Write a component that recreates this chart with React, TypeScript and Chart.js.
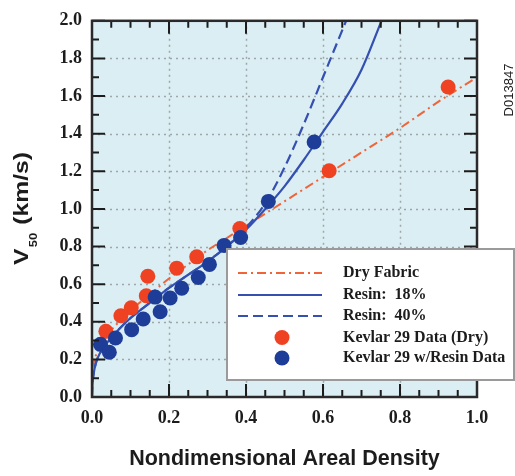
import React, { useEffect, useRef } from 'react';
import { Chart, registerables } from 'chart.js';

Chart.register(...registerables);

// ---------- data ----------
const dryDataX = [0.036, 0.075, 0.102, 0.145, 0.141, 0.220, 0.272, 0.384, 0.616, 0.925];
const dryDataY = [0.349, 0.432, 0.474, 0.642, 0.538, 0.685, 0.745, 0.896, 1.203, 1.648];

const resinDataX = [0.022, 0.045, 0.061, 0.103, 0.133, 0.177, 0.164, 0.203, 0.233, 0.276, 0.305, 0.343, 0.386, 0.458, 0.577];
const resinDataY = [0.280, 0.238, 0.314, 0.358, 0.415, 0.453, 0.531, 0.526, 0.578, 0.635, 0.705, 0.806, 0.848, 1.040, 1.356];

const fabricX = [0, 0.01, 0.02, 0.04, 0.07, 0.1, 0.15, 0.2, 0.25, 0.3, 0.35, 0.4, 0.5, 0.6, 0.7, 0.8, 0.9, 1.0];
const fabricY = [0.15, 0.22, 0.27, 0.33, 0.40, 0.46, 0.545, 0.63, 0.705, 0.78, 0.845, 0.91, 1.04, 1.17, 1.30, 1.43, 1.57, 1.70];

const resin18X = [0, 0.001, 0.004, 0.01, 0.02, 0.04, 0.07, 0.1, 0.15, 0.2, 0.25, 0.3, 0.35, 0.4, 0.45, 0.5, 0.55, 0.6, 0.65, 0.7, 0.752];
const resin18Y = [0, 0.06, 0.12, 0.18, 0.23, 0.29, 0.36, 0.42, 0.5, 0.58, 0.65, 0.72, 0.8, 0.89, 1.0, 1.12, 1.26, 1.41, 1.56, 1.74, 2.0];

const resin40X = [0, 0.001, 0.004, 0.01, 0.02, 0.04, 0.07, 0.1, 0.15, 0.2, 0.25, 0.3, 0.35, 0.4, 0.45, 0.5, 0.55, 0.6, 0.66];
const resin40Y = [0, 0.06, 0.12, 0.18, 0.23, 0.29, 0.36, 0.42, 0.5, 0.58, 0.65, 0.72, 0.8, 0.9, 1.03, 1.22, 1.45, 1.70, 2.0];

const xGridValues = [0.2, 0.4, 0.6, 0.8];
const yGridValues = [0.2, 0.4, 0.6, 0.8, 1.0, 1.2, 1.4, 1.6, 1.8];

const legendLabels = ['Dry Fabric', 'Resin:  18%', 'Resin:  40%', 'Kevlar 29 Data (Dry)', 'Kevlar 29 w/Resin Data'];
const xTitle = 'Nondimensional Areal Density';
const yTitleMain = 'V';
const yTitleSub = '50';
const yTitleRest = ' (km/s)';
const figId = 'D013847';

// ---------- styles ----------
const RED_PT = '#ee4223';
const BLUE_PT = '#1e3d98';
const ORANGE_LINE = '#f0643a';
const BLUE_LINE = '#3450b0';
const BG = '#dbeef3';
const INK = '#1c1c1c';
const SERIF = '"Liberation Serif", "Times New Roman", serif';
const SANS = '"Liberation Sans", Arial, sans-serif';

const pts = (xs: number[], ys: number[]) => xs.map((x, i) => ({ x, y: ys[i] }));

const bgPlugin = {
  id: 'bgPlugin',
  beforeDraw(chart: any) {
    const { ctx, chartArea: a } = chart;
    ctx.save();
    ctx.fillStyle = '#ffffff';
    ctx.fillRect(0, 0, chart.width, chart.height);
    ctx.fillStyle = BG;
    ctx.fillRect(a.left, a.top, a.right - a.left, a.bottom - a.top);
    ctx.restore();
  },
  beforeDatasetsDraw(chart: any) {
    const { ctx, chartArea: a, scales } = chart;
    ctx.save();
    ctx.strokeStyle = '#9fa7aa';
    ctx.lineWidth = 1.5;
    ctx.setLineDash([2, 4]);
    ctx.beginPath();
    xGridValues.forEach((v) => {
      const px = Math.round(scales.x.getPixelForValue(v)) + 0.5;
      ctx.moveTo(px, a.top);
      ctx.lineTo(px, a.bottom);
    });
    yGridValues.forEach((v) => {
      const py = Math.round(scales.y.getPixelForValue(v)) + 0.5;
      ctx.moveTo(a.left, py);
      ctx.lineTo(a.right, py);
    });
    ctx.stroke();
    ctx.restore();
  },
};

const framePlugin = {
  id: 'framePlugin',
  afterDatasetsDraw(chart: any) {
    const { ctx, chartArea: a, scales } = chart;
    const xs = scales.x;
    const ys = scales.y;
    ctx.save();
    ctx.strokeStyle = INK;
    ctx.lineWidth = 2;
    ctx.beginPath();
    for (let i = 0; i <= 20; i++) {
      const px = xs.getPixelForValue(i * 0.05);
      const len = i % 4 === 0 ? 13 : 7;
      ctx.moveTo(px, a.bottom);
      ctx.lineTo(px, a.bottom - len);
      ctx.moveTo(px, a.top);
      ctx.lineTo(px, a.top + len);
    }
    for (let j = 0; j <= 20; j++) {
      const py = ys.getPixelForValue(j * 0.1);
      const len = j % 2 === 0 ? 13 : 7;
      ctx.moveTo(a.left, py);
      ctx.lineTo(a.left + len, py);
      ctx.moveTo(a.right, py);
      ctx.lineTo(a.right - len, py);
    }
    ctx.stroke();
    ctx.lineWidth = 2.5;
    ctx.strokeStyle = '#2a2a2a';
    ctx.strokeRect(a.left, a.top, a.right - a.left, a.bottom - a.top);
    ctx.restore();
  },
  afterDraw(chart: any) {
    const { ctx } = chart;
    const ds = chart.data.datasets;
    const byLabel = (l: string) => ds.find((d: any) => d.label === l);

    // legend box
    ctx.save();
    const bx = 227, by = 249, bw = 287, bh = 131;
    ctx.fillStyle = '#ffffff';
    ctx.fillRect(bx, by, bw, bh);
    ctx.strokeStyle = '#9a9a9a';
    ctx.lineWidth = 2;
    ctx.strokeRect(bx, by, bw, bh);

    const rowsY = [273, 295, 316, 337.5, 358];
    legendLabels.forEach((lab, i) => {
      const d = byLabel(lab);
      const y = rowsY[i];
      if (d && d.showLine) {
        ctx.save();
        ctx.strokeStyle = d.borderColor;
        ctx.lineWidth = d.borderWidth;
        ctx.setLineDash(d.borderDash || []);
        ctx.beginPath();
        ctx.moveTo(238, y);
        ctx.lineTo(322, y);
        ctx.stroke();
        ctx.restore();
      } else if (d) {
        ctx.beginPath();
        ctx.fillStyle = d.backgroundColor;
        ctx.arc(282, y, d.pointRadius, 0, Math.PI * 2);
        ctx.fill();
      }
      ctx.fillStyle = INK;
      ctx.font = `bold 16px ${SERIF}`;
      ctx.textBaseline = 'middle';
      ctx.textAlign = 'left';
      ctx.fillText(lab, 343, y);
    });

    // y title with subscript
    ctx.save();
    ctx.translate(28, 208.5);
    ctx.rotate(-Math.PI / 2);
    ctx.fillStyle = INK;
    ctx.textBaseline = 'alphabetic';
    ctx.textAlign = 'left';
    const fMain = `bold 21px ${SANS}`;
    const fSub = `bold 11px ${SANS}`;
    ctx.font = fMain;
    const wV = ctx.measureText(yTitleMain).width;
    const wR = ctx.measureText(yTitleRest).width;
    ctx.font = fSub;
    const wS = ctx.measureText(yTitleSub).width + 2;
    const total = wV + wS + wR;
    const s = 113 / total;
    ctx.scale(s, 1);
    const x0 = -total / 2;
    ctx.font = fMain;
    ctx.fillText(yTitleMain, x0, 0);
    ctx.font = fSub;
    ctx.fillText(yTitleSub, x0 + wV + 1, 9);
    ctx.font = fMain;
    ctx.fillText(yTitleRest, x0 + wV + wS, 0);
    ctx.restore();

    // figure id
    ctx.save();
    ctx.translate(509, 90);
    ctx.rotate(-Math.PI / 2);
    ctx.fillStyle = INK;
    ctx.font = `13px ${SANS}`;
    ctx.textAlign = 'center';
    ctx.textBaseline = 'middle';
    ctx.fillText(figId, 0, 0);
    ctx.restore();

    ctx.restore();
  },
};

export default function App() {
  const ref = useRef<HTMLCanvasElement>(null);

  useEffect(() => {
    const canvas = ref.current;
    if (!canvas) return;
    const chart = new Chart(canvas, {
      type: 'scatter',
      data: {
        datasets: [
          {
            label: 'Kevlar 29 w/Resin Data',
            data: pts(resinDataX, resinDataY),
            backgroundColor: BLUE_PT,
            borderColor: BLUE_PT,
            pointRadius: 7.5,
            pointBorderWidth: 0,
            showLine: false,
          },
          {
            label: 'Kevlar 29 Data (Dry)',
            data: pts(dryDataX, dryDataY),
            backgroundColor: RED_PT,
            borderColor: RED_PT,
            pointRadius: 7.5,
            pointBorderWidth: 0,
            showLine: false,
          },
          {
            label: 'Resin:  18%',
            data: pts(resin18X, resin18Y),
            borderColor: BLUE_LINE,
            backgroundColor: BLUE_LINE,
            borderWidth: 2.2,
            pointRadius: 0,
            showLine: true,
            cubicInterpolationMode: 'monotone',
          },
          {
            label: 'Resin:  40%',
            data: pts(resin40X, resin40Y),
            borderColor: BLUE_LINE,
            backgroundColor: BLUE_LINE,
            borderWidth: 2.2,
            borderDash: [10, 5],
            pointRadius: 0,
            showLine: true,
            cubicInterpolationMode: 'monotone',
          },
          {
            label: 'Dry Fabric',
            data: pts(fabricX, fabricY),
            borderColor: ORANGE_LINE,
            backgroundColor: ORANGE_LINE,
            borderWidth: 2,
            borderDash: [9, 4, 2, 4],
            pointRadius: 0,
            showLine: true,
            cubicInterpolationMode: 'monotone',
          },
        ] as any,
      },
      options: {
        animation: false,
        responsive: false,
        events: [],
        layout: { padding: { left: 0, top: 13, right: 38, bottom: 0 } },
        plugins: { legend: { display: false }, tooltip: { enabled: false } },
        scales: {
          x: {
            type: 'linear',
            min: 0,
            max: 1,
            afterFit: (s: any) => { s.height = 79; },
            ticks: {
              stepSize: 0.2,
              padding: 11,
              color: INK,
              font: { family: SERIF, size: 18, weight: 'bold' },
              callback: (v: any) => Number(v).toFixed(1),
            },
            grid: { display: false, drawTicks: false },
            border: { display: false },
            title: {
              display: true,
              text: xTitle,
              color: INK,
              font: { family: SANS, size: 21.5, weight: 'bold' },
              padding: { top: 0, bottom: 4 },
            },
          },
          y: {
            type: 'linear',
            min: 0,
            max: 2,
            afterFit: (s: any) => { s.width = 92; },
            ticks: {
              stepSize: 0.2,
              padding: 10,
              color: INK,
              font: { family: SERIF, size: 18, weight: 'bold' },
              callback: (v: any) => Number(v).toFixed(1),
            },
            grid: { display: false, drawTicks: false },
            border: { display: false },
          },
        },
      } as any,
      plugins: [bgPlugin, framePlugin],
    });
    return () => chart.destroy();
  }, []);

  return (
    <div style={{ position: 'absolute', left: 0, top: 0, width: 515, height: 476, background: '#fff' }}>
      <canvas ref={ref} width={515} height={476} style={{ display: 'block' }} />
    </div>
  );
}
